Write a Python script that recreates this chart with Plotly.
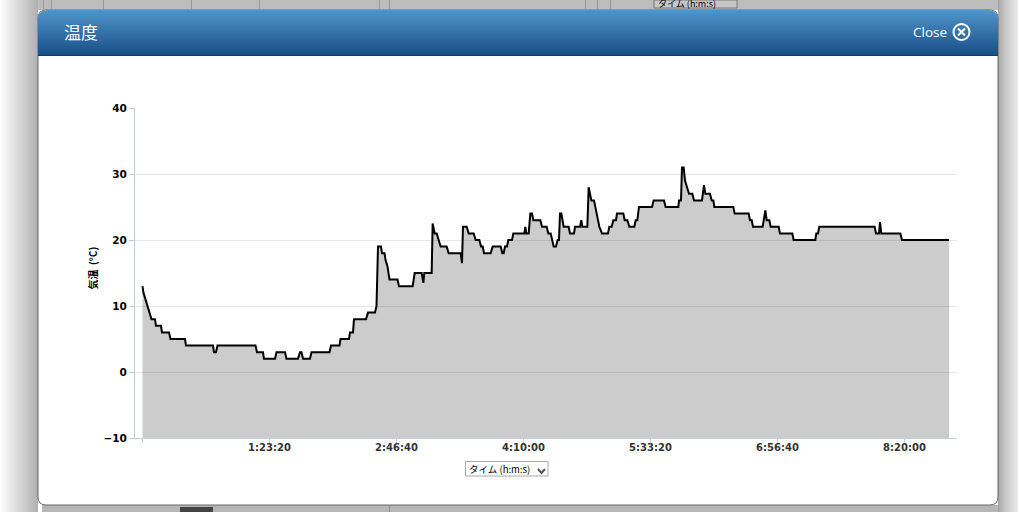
import math
import plotly.graph_objects as go

# Elapsed seconds and temperature (deg C)
elapsed_s = [0,39,118,197,276,354,492,531,728,768,1043,1102,1673,1713,2776,2815,2894,2953,4449,4508,4744,4783,5217,5276,5610,5669,6122,6201,6260,6319,6594,6654,7362,7421,7756,7795,8130,8169,8287,8327,8799,8878,9154,9213,9272,9390,9429,9528,9567,9646,9724,10039,10098,
10637,10716,10991,11057,11096,11385,11424,11503,11582,11660,11739,11975,12054,12526,12579,12618,12763,12841,13038,13117,13261,13327,13393,13445,13708,13786,14101,14167,14219,14272,14350,14403,14547,14600,15033,15072,15112,15204,15269,15335,15387,15663,15729,15912,15978,16070,16135,16188,16280,16345,16398,16437,16490,16582,16778,16831,16988,17028,17224,17277,17316,17513,17566,17671,17776,17881,17986,18091,18327,18379,18471,18537,18642,18681,18930,18983,19088,19167,19364,19416,19482,19547,20059,20125,20531,20597,
21096,21122,21201,21240,21306,21358,21424,21516,21647,21713,22027,22106,22159,22342,22408,22474,22513,23261,23314,23865,23917,23983,24035,24416,24521,24573,24678,24731,25046,25098,25584,25636,26489,26529,26594,26647,28825,28878,28996,29035,29088,29836,29901,31752]
temperature = [13,12,11,10,9,8,8,7,7,6,6,5,5,4,4,3,3,4,4,3,3,2,2,3,3,2,2,3,3,2,2,3,3,4,4,5,5,6,6,8,8,9,9,10,19,19,18,18,17,16,14,14,13,
13,15,15,13.5,15,15,22.5,21,21,20,19,19,18,18,16.5,22,22,21,21,20,20,19,19,18,18,19,19,18,18,19,19,20,20,21,21,22,21,21,24,24,23,23,22,22,21,21,20,19,19,20,20,24,24,22,22,21,21,22,22,23,22,22,28,26,26,24,22,21,21,22,22,23,23,24,24,23,23,22,22,23,23,25,25,26,26,25,
25,26,26,31,31,29,28,27,27,26,26,28.3,27,27,26,26,25,25,24,24,23,23,22,22,24.5,23,23,22,22,21,21,20,20,21,21,22,22,21,21,22.7,21,21,20,20]
floor_values = [-10] * len(elapsed_s)
x_tick_values = [0, 5000, 10000, 15000, 20000, 25000, 30000]
x_tick_labels = ["", "1:23:20", "2:46:40", "4:10:00", "5:33:20", "6:56:40", "8:20:00"]
y_tick_values = [-10, 0, 10, 20, 30, 40]
y_tick_labels = ["\u221210", "0", "10", "20", "30", "40"]

L, R, T, B = 135, 957, 108, 438
W, H = 1018, 515
px = lambda x: (x - L) / (R - L)
py = lambda y: (B - y) / (B - T)
shapes = []


def rect(x0, y0, x1, y1, fill, line=None, lw=0, layer="below"):
    shapes.append(dict(type="rect", xref="paper", yref="paper", x0=px(x0), x1=px(x1), y0=py(y0), y1=py(y1),
                       fillcolor=fill, line=dict(color=line or fill, width=lw), layer=layer))


def mix(a, b, f):
    return "rgb(%d,%d,%d)" % tuple(round(a[i] + (b[i] - a[i]) * f) for i in range(3))


# backdrop page behind the dialog
rect(0, 0, W, 512, "#ffffff")
for i in range(38):
    rect(i, 0, i + 1, 512, mix((252, 252, 252), (176, 176, 176), (i / 37) ** 1.1))
for i in range(20):
    rect(998 + i, 0, 999 + i, 512, mix((165, 165, 165), (232, 232, 232), (i / 19) ** 0.7))
rect(38, 0, 998, 10, "#bdbdbd")
rect(42, 505, 998, 512, "#b6b6b6")
for x in (43, 51, 103, 191, 259, 379, 389, 585, 597, 610):
    rect(x, 0, x + 1, 9, "#999999")
rect(389, 505, 390, 512, "#8f8f8f")
rect(180, 507, 213, 512, "#444444")
rect(654, 0, 737, 8, "#c6c6c6", "#777777", 1)

# dialog body with rounded corners
r = 8
a, b, c, d = px(38), px(998), py(10), py(505)
rx, ry = r / (R - L), r / (B - T)
shapes.append(dict(type="path", xref="paper", yref="paper", layer="below", fillcolor="#ffffff",
                   line=dict(color="#666666", width=1),
                   path=f"M {a+rx} {c} L {b-rx} {c} Q {b} {c} {b} {c-ry} L {b} {d+ry} Q {b} {d} {b-rx} {d} "
                        f"L {a+rx} {d} Q {a} {d} {a} {d+ry} L {a} {c-ry} Q {a} {c} {a+rx} {c} Z"))
# header gradient
for i in range(45):
    inset = r - math.sqrt(max(r * r - (r - i) ** 2, 0)) if i < r else 0
    rect(38 + inset, 10 + i, 998 - inset, 11 + i, mix((78, 149, 201), (27, 78, 136), i / 44))
rect(38, 55, 998, 56, "#123e6e")
# close icon
shapes.append(dict(type="circle", xref="paper", yref="paper", x0=px(953.5), x1=px(969.5), y0=py(24), y1=py(40),
                   line=dict(color="#ffffff", width=2), layer="above"))
for x0, y0, x1, y1 in ((958, 28.5, 965, 35.5), (958, 35.5, 965, 28.5)):
    shapes.append(dict(type="line", xref="paper", yref="paper", x0=px(x0), x1=px(x1), y0=py(y0), y1=py(y1),
                       line=dict(color="#ffffff", width=2), layer="above"))
# dropdown box
rect(465.5, 461.5, 548, 476, "#ffffff", "#a8a8a8", 1)
shapes.append(dict(type="path", xref="paper", yref="paper", layer="above", line=dict(color="#555555", width=2),
                   path=f"M {px(538)} {py(469)} L {px(541.5)} {py(473)} L {px(545)} {py(469)}"))


def note(x, y, text, size, color="#000000", family="Noto Sans CJK JP", anchor="left", angle=0):
    return dict(xref="paper", yref="paper", x=px(x), y=py(y), text=text, showarrow=False, xanchor=anchor,
                yanchor="middle", textangle=angle, font=dict(size=size, color=color, family=family))


annotations = [
    note(62, 31.5, "温度", 17, "#ffffff"),
    note(911, 32, "Close", 13.5, "#ffffff", "Open Sans"),
    note(467, 468.5, "タイム (h:m:s)", 9.5),
    note(656, 4, "タイム (h:m:s)", 9),
    note(92, 268.5, "<b>気温&nbsp;&nbsp;(°C)</b>", 10, anchor="center", angle=-90),
]

fig = go.Figure()
fig.add_trace(go.Scatter(x=elapsed_s, y=floor_values, mode="lines", line=dict(width=0), hoverinfo="skip", showlegend=False))
fig.add_trace(go.Scatter(x=elapsed_s, y=temperature, mode="lines", fill="tonexty", fillcolor="rgba(0,0,0,0.2)",
                         line=dict(color="#000000", width=2), showlegend=False))
fig.update_layout(
    width=W, height=H, margin=dict(l=L, r=W - R, t=T, b=H - B), paper_bgcolor="#ffffff", plot_bgcolor="rgba(0,0,0,0)",
    shapes=shapes, annotations=annotations,
    xaxis=dict(range=[-295, 32067], tickmode="array", tickvals=x_tick_values, ticktext=[f"<b>{s}</b>" for s in x_tick_labels],
               ticks="outside", ticklen=4, tickcolor="#c0d0e0", showgrid=False, zeroline=False, showline=True,
               linecolor="#c0d0e0", linewidth=1, ticklabelstandoff=-4,
               tickfont=dict(family="DejaVu Sans", size=10, color="#333333")),
    yaxis=dict(range=[-10, 40], tickmode="array", tickvals=y_tick_values, ticktext=[f"<b>{s}</b>" for s in y_tick_labels],
               ticks="outside", ticklen=5, tickcolor="#c0d0e0", showgrid=True, gridcolor="#e8e8e8", zeroline=False,
               showline=True, linecolor="#c0d0e0", linewidth=1,
               tickfont=dict(family="DejaVu Sans", size=10.5, color="#000000")),
)
fig.write_html("out.html", config=dict(displayModeBar=False),
               post_script="document.body.style.margin='0';document.body.style.overflow='hidden';")
